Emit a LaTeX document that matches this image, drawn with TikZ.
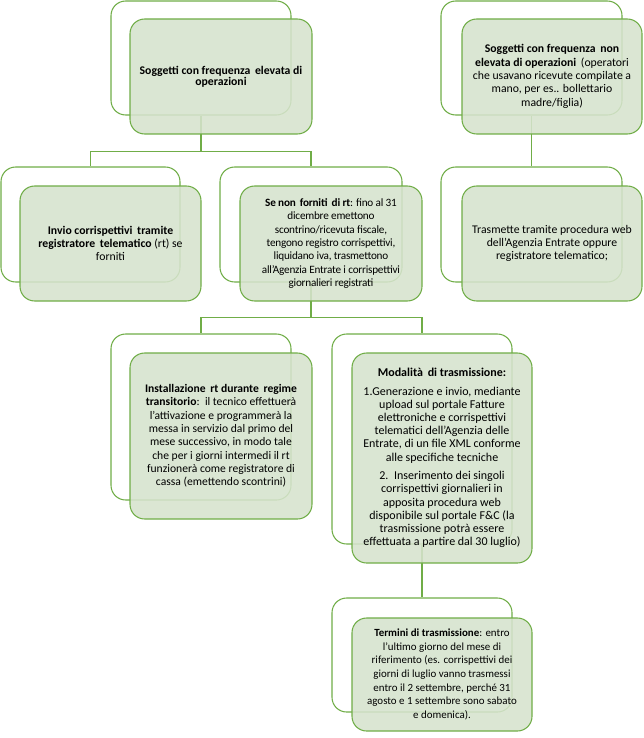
\documentclass[tikz,border=0pt]{standalone}
\usepackage{fontspec}
\setmainfont{Carlito}
\definecolor{lgreen}{RGB}{112,173,71}
\definecolor{pgreen}{RGB}{214,227,205}
\begin{document}
\begin{tikzpicture}[x=0.75pt,y=-0.75pt,
  sz/.style 2 args={minimum width=#1*0.75pt, minimum height=#2*0.75pt},
  fs/.style={font=\fontsize{#1}{10}\selectfont},
  backbox/.style={draw=lgreen, line width=0.8pt, fill=white, rounded corners=11pt, inner sep=0pt},
  frontbox/.style={draw=lgreen, line width=0.8pt, fill=pgreen, fill opacity=0.88, text opacity=1,
    rounded corners=11pt, inner sep=1pt, align=center, font=\fontsize{8}{10}\selectfont},
  conn/.style={draw=lgreen, line width=0.8pt}]
\useasboundingbox (0,0) rectangle (643,738);
% back boxes
\node[backbox, sz={180}{114}] (b1) at (201,58) {};
\node[backbox, sz={181}{114}] (b2) at (531.5,58) {};
\node[backbox, sz={179}{115}] (b3) at (90.5,224.5) {};
\node[backbox, sz={182}{115}] (b4) at (311,224.5) {};
\node[backbox, sz={181}{115}] (b5) at (531.5,224.5) {};
\node[backbox, sz={180}{166}] (b6) at (201,417) {};
\node[backbox, sz={180}{210}] (b7) at (422,439) {};
\node[backbox, sz={180}{114}] (b8) at (422,655) {};
% connectors
\draw[conn] (b1.south) -- ++(0,36) coordinate (j1) -| (b3.north);
\draw[conn] (j1) -| (b4.north);
\draw[conn] (b2.south) -- (b5.north);
\draw[conn] (b4.south) -- ++(0,35) coordinate (j2) -| (b6.north);
\draw[conn] (j2) -| (b7.north);
\draw[conn] (b7.south) -- (b8.north);
% front boxes
\node[frontbox, fs=8.8, sz={182}{115}] (f1) at (221,76.5) {\textbf{Soggetti con frequenza\, elevata di}\\[-2pt] \textbf{operazioni}};
\node[frontbox, fs=8.8, sz={180}{115}] (f2) at (552,76.5) {\textbf{Soggetti con frequenza\, non}\\ \textbf{elevata di operazioni}\, (operatori\\ che usavano ricevute compilate a\\ mano, per es.. bollettario\\ madre/figlia)};
\node[frontbox, fs=8.8, sz={181}{115}] (f3) at (110.5,243.5) {\textbf{Invio corrispettivi\, tramite}\\ \textbf{registratore\, telematico} (rt) se\\ forniti};
\node[frontbox, font=\addfontfeature{LetterSpace=-2}\fontsize{8.4}{10.1}\selectfont, sz={182}{115}] (f4) at (331,243.5) {\textbf{Se non\, forniti\, di rt}: fino al 31\\ dicembre emettono\\ scontrino/ricevuta fiscale,\\ tengono registro corrispettivi,\\ liquidano iva, trasmettono\\ all'Agenzia Entrate i corrispettivi\\ giornalieri registrati};
\node[frontbox, fs=8.8, sz={180}{115}] (f5) at (552,243.5) {Trasmette tramite procedura web\\ dell'Agenzia Entrate oppure\\ registratore telematico;};
\node[frontbox, fs=8.7, sz={182}{166}] (f6) at (221,436) {\textbf{Installazione\, rt durante\, regime}\\ \textbf{transitorio}:\, il tecnico effettuerà\\ l’attivazione e programmerà la\\ messa in servizio dal primo del\\ mese successivo, in modo tale\\ che per i giorni intermedi il rt\\ funzionerà come registratore di\\ cassa (emettendo scontrini)};
\node[frontbox, font=\fontsize{9}{9.9}\selectfont, sz={180}{210}] (f7) at (442,458) {\textbf{Modalità\, di trasmissione:}\\[4pt] 1.Generazione e invio, mediante\\ upload sul portale Fatture\\ elettroniche e corrispettivi\\ telematici dell'Agenzia delle\\ Entrate, di un file XML conforme\\ alle specifiche tecniche\\[4pt] 2.\, Inserimento dei singoli\\ corrispettivi giornalieri in\\ apposita procedura web\\ disponibile sul portale F\&C (la\\ trasmissione potrà essere\\ effettuata a partire dal 30 luglio)};
\node[frontbox, font=\fontsize{8.2}{10.2}\selectfont, sz={180}{113}] (f8) at (442,674.5) {\textbf{Termini di trasmissione}: entro\\ l’ultimo giorno del mese di\\ riferimento (es. corrispettivi dei\\ giorni di luglio vanno trasmessi\\ entro il 2 settembre, perché 31\\ agosto e 1 settembre sono sabato\\ e domenica).};
\end{tikzpicture}
\end{document}
